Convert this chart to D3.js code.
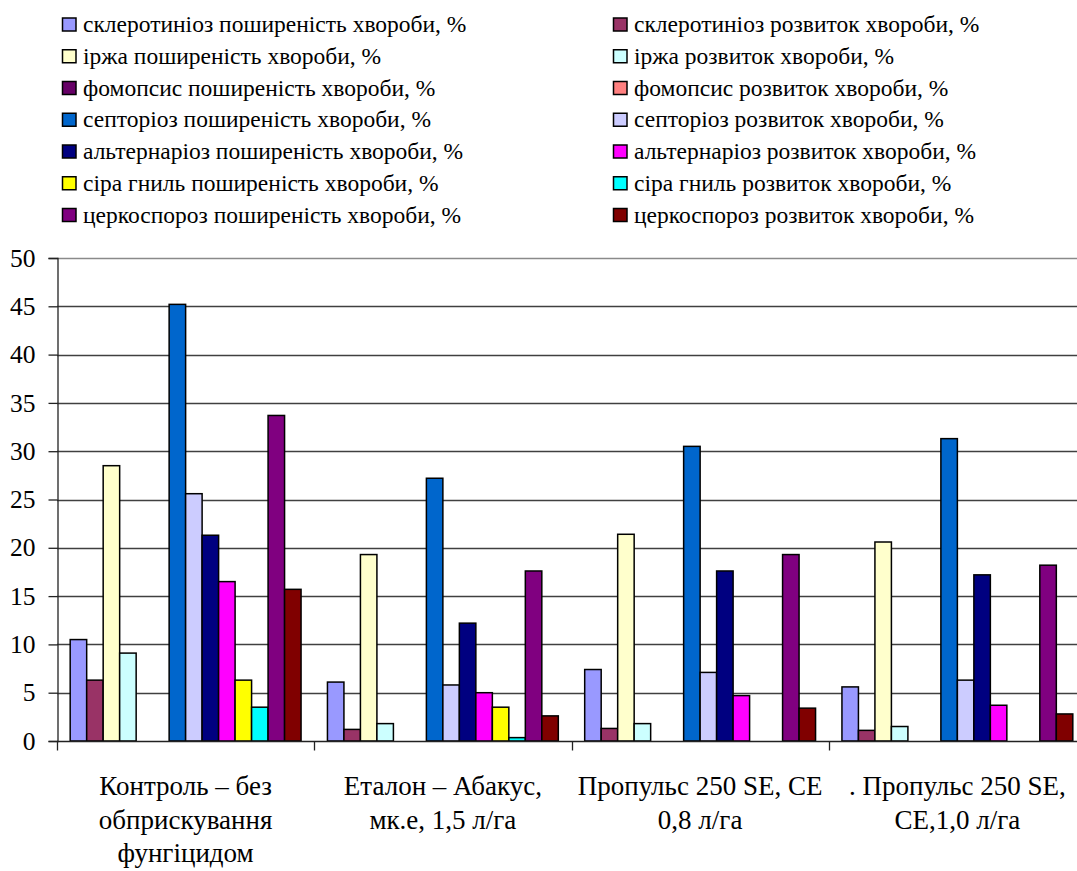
<!DOCTYPE html>
<html>
<head>
<meta charset="utf-8">
<script src="https://cdn.jsdelivr.net/npm/d3@7"></script>
<style>
  html, body { margin: 0; padding: 0; background: #fff; }
  svg { display: block; }
  svg text { font-family: "Liberation Serif", "Times New Roman", serif; }
</style>
</head>
<body>
<svg id="chart" width="1077" height="871"></svg>
<script>
// ---- data ----
const categories = [
  "Контроль – без|обприскування|фунгіцидом",
  "Еталон – Абакус,|мк.е, 1,5 л/га",
  "Пропульс 250 SE, СЕ|0,8 л/га",
  ". Пропульс 250 SE,|СЕ,1,0 л/га"
];
const seriesNames = [
  "склеротиніоз поширеність хвороби, %",
  "склеротиніоз розвиток хвороби, %",
  "іржа поширеність хвороби, %",
  "іржа розвиток хвороби, %",
  "фомопсис поширеність хвороби, %",
  "фомопсис розвиток хвороби, %",
  "септоріоз поширеність хвороби, %",
  "септоріоз розвиток хвороби, %",
  "альтернаріоз поширеність хвороби, %",
  "альтернаріоз розвиток хвороби, %",
  "сіра гниль поширеність хвороби, %",
  "сіра гниль розвиток хвороби, %",
  "церкоспороз поширеність хвороби, %",
  "церкоспороз розвиток хвороби, %"
];
const seriesColors = [
  "#9999FF", "#993366", "#FFFFCC", "#CCFFFF", "#660066", "#FF8080", "#0066CC",
  "#CCCCFF", "#000080", "#FF00FF", "#FFFF00", "#00FFFF", "#800080", "#800000"
];
// values per category, in series order
const controlValues    = [10.5, 6.3, 28.5, 9.1, 0, 0, 45.2, 25.6, 21.3, 16.5, 6.3, 3.5, 33.7, 15.7];
const etalonValues     = [6.1, 1.2, 19.3, 1.8, 0, 0, 27.2, 5.8, 12.2, 5.0, 3.5, 0.35, 17.6, 2.6];
const propulse08Values = [7.4, 1.3, 21.4, 1.8, 0, 0, 30.5, 7.1, 17.6, 4.7, 0, 0, 19.3, 3.4];
const propulse10Values = [5.6, 1.1, 20.6, 1.5, 0, 0, 31.3, 6.3, 17.2, 3.7, 0, 0, 18.2, 2.8];
const valuesByCategory = [controlValues, etalonValues, propulse08Values, propulse10Values];
const yTicks = [0, 5, 10, 15, 20, 25, 30, 35, 40, 45, 50];

// ---- layout ----
const svg = d3.select("#chart");
const plot = { left: 57, right: 1086, top: 258, bottom: 741 };

const x0 = d3.scaleBand().domain(categories).range([plot.left, plot.right]).padding(0);
const x1 = d3.scaleBand().domain(d3.range(seriesNames.length))
  .range([0, x0.bandwidth()]).paddingInner(0).paddingOuter(0.8);
const y = d3.scaleLinear().domain([0, 50]).range([plot.bottom, plot.top]);

svg.append("rect").attr("width", 1077).attr("height", 871).attr("fill", "#fff");

// gridlines
svg.append("g")
  .selectAll("line").data(yTicks.filter(d => d > 0)).join("line")
  .attr("x1", plot.left).attr("x2", plot.right)
  .attr("y1", d => Math.round(y(d)) + 0.5).attr("y2", d => Math.round(y(d)) + 0.5)
  .attr("stroke", d => d === 50 ? "#8a8a8a" : "#404040").attr("stroke-width", 1.3);

// y axis
const yAxis = svg.append("g")
  .attr("transform", `translate(${plot.left + 0.5},0)`)
  .call(d3.axisLeft(y).tickValues(yTicks).tickSize(9).tickPadding(13));
yAxis.attr("font-family", null);
yAxis.select(".domain").attr("stroke", "#222").attr("stroke-width", 1.3);
yAxis.selectAll(".tick line").attr("stroke", "#222").attr("stroke-width", 1.3);
yAxis.selectAll(".tick text").attr("font-size", 25.5).attr("fill", "#000");

// bars
const groups = svg.append("g").selectAll("g").data(categories).join("g")
  .attr("transform", d => `translate(${x0(d)},0)`);
groups.selectAll("rect")
  .data((d, i) => valuesByCategory[i].map((v, s) => ({ v, s })).filter(o => o.v > 0))
  .join("rect")
  .attr("x", d => x1(d.s))
  .attr("width", x1.bandwidth())
  .attr("y", d => y(d.v))
  .attr("height", d => y(0) - y(d.v))
  .attr("fill", d => seriesColors[d.s])
  .attr("stroke", "#000").attr("stroke-width", 1.5);

// x axis
const xAxisG = svg.append("g").attr("transform", `translate(0,${plot.bottom + 0.5})`);
xAxisG.append("line").attr("x1", plot.left).attr("x2", plot.right)
  .attr("stroke", "#222").attr("stroke-width", 1.3);
const boundaries = categories.map(c => x0(c)).concat([plot.right]);
xAxisG.selectAll("line.tk").data(boundaries).join("line").attr("class", "tk")
  .attr("x1", d => Math.round(d) + 0.5).attr("x2", d => Math.round(d) + 0.5)
  .attr("y1", 0).attr("y2", 9).attr("stroke", "#222").attr("stroke-width", 1.3);

// category labels
const lab = svg.append("g").selectAll("text").data(categories).join("text")
  .attr("font-size", 27).attr("fill", "#000")
  .attr("text-anchor", "middle");
lab.selectAll("tspan").data(d => d.split("|").map(t => ({ t, c: d }))).join("tspan")
  .attr("x", d => x0(d.c) + x0.bandwidth() / 2)
  .attr("y", (d, i) => 795 + i * 33.5)
  .text(d => d.t);

// legend
const legend = svg.append("g").selectAll("g").data(seriesNames).join("g")
  .attr("transform", (d, i) => {
    const col = i % 2, row = Math.floor(i / 2);
    return `translate(${col === 0 ? 62 : 613},${32 + row * 31.75})`;
  });
legend.append("rect").attr("x", 0.5).attr("y", -14).attr("width", 13.5).attr("height", 13)
  .attr("fill", (d, i) => seriesColors[i]).attr("stroke", "#000").attr("stroke-width", 1.5);
legend.append("text").attr("x", 21).attr("y", 0)
  .attr("font-size", 23.5).attr("fill", "#000")
  .text(d => d);
</script>
</body>
</html>
